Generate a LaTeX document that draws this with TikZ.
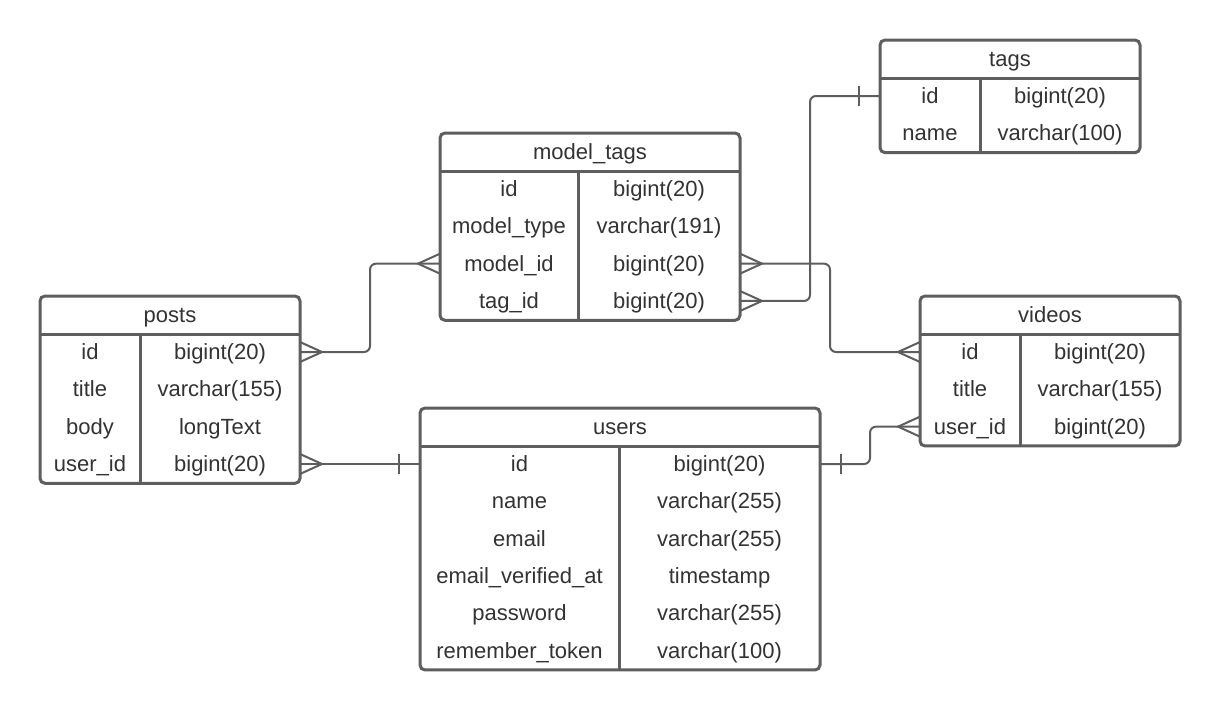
\documentclass[tikz,border=0pt]{standalone}
\usepackage{fontspec}
\setmainfont{Liberation Sans}
\usetikzlibrary{calc}
\definecolor{edge}{HTML}{5E5E5E}
\definecolor{ink}{HTML}{333333}

\tikzset{
  tbl/.style={draw=edge, line width=3pt, rounded corners=5pt, inner sep=0pt, outer sep=0pt, anchor=north west},
  rule/.style={draw=edge, line width=3pt},
  cell/.style={font=\fontsize{22}{26}\selectfont, text=ink, inner sep=0pt, text height=20pt, text depth=4.7pt},
  conn/.style={draw=edge, line width=2pt, rounded corners=6pt},
  crowfoot/.pic={\draw[draw=edge, line width=2pt] (0,-10) -- (22,0) -- (0,10);},
  onebar/.pic={\draw[draw=edge, line width=2pt] (21,-10) -- (21,10);},
}

% #1 name, #2 left, #3 top, #4 width, #5 key column width, #6 rows, #7 title, #8 key/type list
\newcommand\erdtable[8]{%
  \pgfmathsetmacro\tblh{38+37.33*#6}%
  \node[tbl, minimum width=#4pt, minimum height=\tblh pt] (#1) at (#2,#3) {};
  \node[cell] (#1-title) at ({#2+#4/2},{#3+19}) {#7};
  \draw[rule] (#2,{#3+38}) -- ({#2+#4},{#3+38});
  \draw[rule] ({#2+#5},{#3+38}) -- ({#2+#5},{#3+\tblh});
  \foreach \kname/\ty [count=\i] in {#8}{
    \node[cell] (#1-\i) at ({#2+#5/2},{#3+18.67+37.33*\i}) {\kname};
    \node[cell] (#1-\i-type) at ({#2+(#4+#5)/2},{#3+18.67+37.33*\i}) {\ty};
  }
}

\begin{document}
\begin{tikzpicture}[x=1pt, y=-1pt]
  \fill[white] (0,0) rectangle (1220,710);
  \path[use as bounding box] (0,0) rectangle (1220,710);

  \erdtable{tags}{880}{40}{260}{100}{2}{tags}{id/bigint(20), name/varchar(100)}
  \erdtable{mt}{440}{133}{300}{138}{4}{model\_tags}{id/bigint(20), model\_type/varchar(191), model\_id/bigint(20), tag\_id/bigint(20)}
  \erdtable{posts}{40}{296}{260}{100}{4}{posts}{id/bigint(20), title/varchar(155), body/longText, user\_id/bigint(20)}
  \erdtable{users}{420}{408}{400}{199}{6}{users}{id/bigint(20), name/varchar(255), email/varchar(255), email\_verified\_at/timestamp, password/varchar(255), remember\_token/varchar(100)}
  \erdtable{videos}{920}{296}{260}{100}{3}{videos}{id/bigint(20), title/varchar(155), user\_id/bigint(20)}

  % posts.id  >-<  model_tags.model_id
  \draw[conn] (posts.east |- posts-1) -- ++(70,0) |- (mt.west |- mt-3);
  \pic at (posts.east |- posts-1) {crowfoot};
  \pic[rotate=180] at (mt.west |- mt-3) {crowfoot};

  % posts.user_id  >-|  users.id
  \draw[conn] (posts.east |- posts-4) -- (users.west |- posts-4);
  \pic at (posts.east |- posts-4) {crowfoot};
  \pic[rotate=180] at (users.west |- posts-4) {onebar};

  % tags.id  |-<  model_tags.tag_id
  \draw[conn] (tags.west |- tags-1) -- ++(-70,0) |- (mt.east |- mt-4);
  \pic[rotate=180] at (tags.west |- tags-1) {onebar};
  \pic at (mt.east |- mt-4) {crowfoot};

  % model_tags.model_id  >-<  videos.id
  \draw[conn] (mt.east |- mt-3) -- ++(90,0) |- (videos.west |- videos-1);
  \pic at (mt.east |- mt-3) {crowfoot};
  \pic[rotate=180] at (videos.west |- videos-1) {crowfoot};

  % users.id  |-<  videos.user_id
  \draw[conn] (users.east |- users-1) -- ++(50,0) |- (videos.west |- videos-3);
  \pic at (users.east |- users-1) {onebar};
  \pic[rotate=180] at (videos.west |- videos-3) {crowfoot};
\end{tikzpicture}
\end{document}
